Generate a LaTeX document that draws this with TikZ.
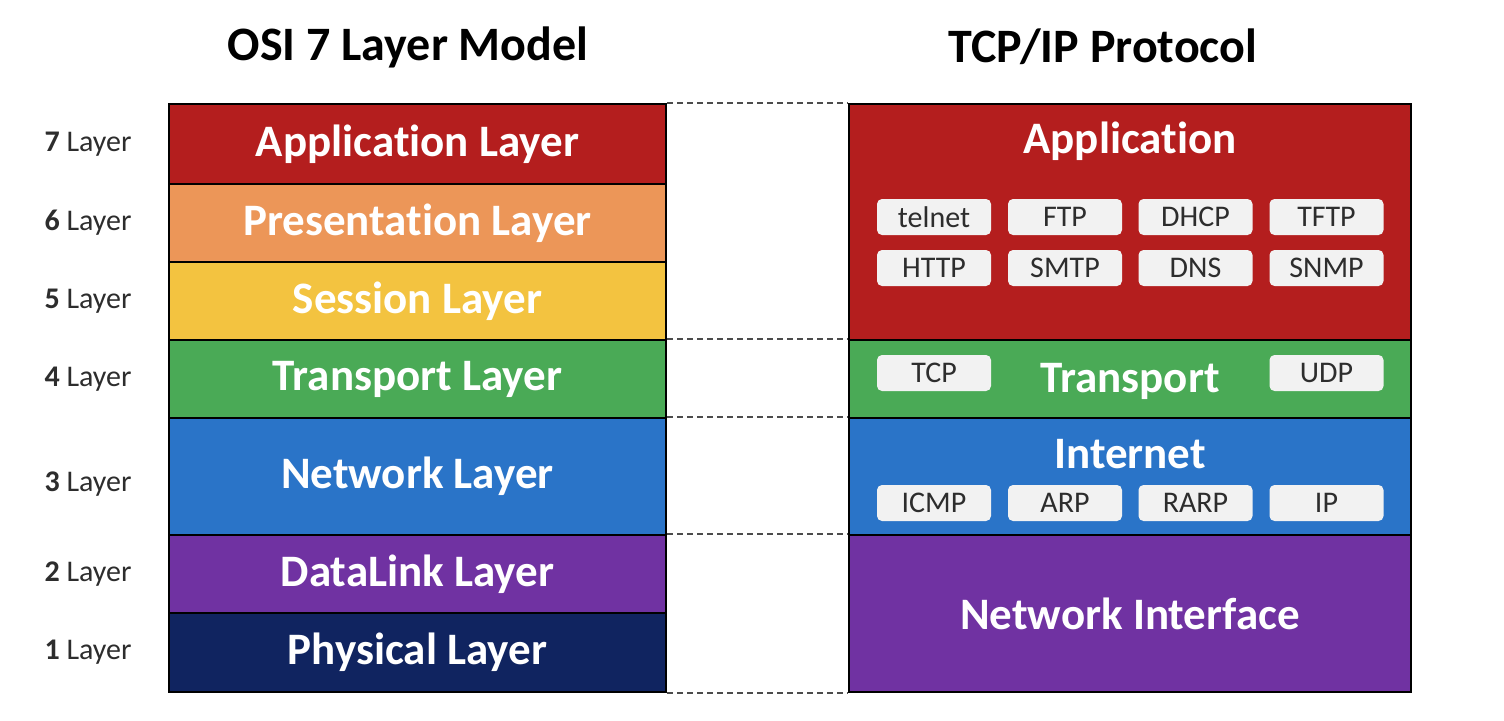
\documentclass[tikz,border=0pt]{standalone}
\usepackage{fontspec}
\setmainfont[Ligatures=NoCommon]{Carlito}
\usetikzlibrary{positioning}
\definecolor{OSIred}{RGB}{180,30,30}
\definecolor{OSIorange}{RGB}{236,150,88}
\definecolor{OSIyellow}{RGB}{243,195,64}
\definecolor{OSIgreen}{RGB}{74,170,86}
\definecolor{OSIblue}{RGB}{42,116,200}
\definecolor{OSIpurple}{RGB}{112,50,162}
\definecolor{OSInavy}{RGB}{16,36,96}
\definecolor{DG}{RGB}{45,45,45}
\definecolor{BoxGray}{RGB}{242,242,242}

\begin{document}
\begin{tikzpicture}[x=1pt, y=-1pt,
  band/.style={draw=black, line width=2.5pt, fill=#1, text=white, inner sep=0pt,
    font=\fontsize{45}{47}\selectfont\bfseries},
  osiband/.style={band=#1, minimum width=497pt},
  tcpband/.style={band=#1, minimum width=562pt},
  bandtitle/.style={text=white, font=\fontsize{45}{47}\selectfont\bfseries},
  proto/.style={fill=BoxGray, rounded corners=5pt, minimum width=114pt, minimum height=36pt,
    inner sep=0pt, text=DG, font=\fontsize{30}{32}\selectfont},
  layerlab/.style={text=DG, font=\fontsize{30}{32}\selectfont, inner sep=0pt},
  headline/.style={text=black, font=\fontsize{48}{50}\selectfont\bfseries},
  dashline/.style={draw=black!70, line width=2pt, dash pattern=on 6pt off 4pt}
]
\useasboundingbox (0,0) rectangle (1504,720);

% titles
\node[headline] (osititle) at (408,47) {OSI 7 Layer Model};
\node[headline] (tcptitle) at (1103,47) {TCP/IP Protocol};

% OSI stack
\node[osiband=OSIred,    minimum height=80pt]  (osi7) at (417.5,144)   {Application Layer};
\node[osiband=OSIorange, minimum height=78pt]  (osi6) at (417.5,223)   {Presentation Layer};
\node[osiband=OSIyellow, minimum height=78pt]  (osi5) at (417.5,301)   {Session Layer};
\node[osiband=OSIgreen,  minimum height=78pt]  (osi4) at (417.5,379)   {Transport Layer};
\node[osiband=OSIblue,   minimum height=117pt] (osi3) at (417.5,476.5) {Network Layer};
\node[osiband=OSIpurple, minimum height=78pt]  (osi2) at (417.5,574)   {DataLink Layer};
\node[osiband=OSInavy,   minimum height=79pt]  (osi1) at (417.5,652.5) {Physical Layer};

\node[layerlab, left=36pt of osi7] (lab7) {\textbf{7} Layer};
\node[layerlab, left=36pt of osi6] (lab6) {\textbf{6} Layer};
\node[layerlab, left=36pt of osi5] (lab5) {\textbf{5} Layer};
\node[layerlab, left=36pt of osi4] (lab4) {\textbf{4} Layer};
\node[layerlab, left=36pt of osi3, yshift=-8pt] (lab3) {\textbf{3} Layer};
\node[layerlab, left=36pt of osi2] (lab2) {\textbf{2} Layer};
\node[layerlab, left=36pt of osi1] (lab1) {\textbf{1} Layer};

% TCP/IP stack
\node[tcpband=OSIred,    minimum height=236pt] (tapp)   at (1130,222)   {};
\node[tcpband=OSIgreen,  minimum height=78pt]  (ttrans) at (1130,379)   {};
\node[tcpband=OSIblue,   minimum height=117pt] (tinet)  at (1130,476.5) {};
\node[tcpband=OSIpurple, minimum height=157pt] (tnif)   at (1130,613.5) {Network Interface};

\node[bandtitle] (tapptitle)   at (1130,141) {Application};
\node[bandtitle] (ttranstitle) at (1130,381) {Transport};
\node[bandtitle] (tinettitle)  at (1130,454) {Internet};

\node[proto] (telnet) at (934,217)    {telnet};
\node[proto] (ftp)    at (1065,217)   {FTP};
\node[proto] (dhcp)   at (1195.5,217) {DHCP};
\node[proto] (tftp)   at (1326.5,217) {TFTP};
\node[proto] (http)   at (934,268)    {HTTP};
\node[proto] (smtp)   at (1065,268)   {SMTP};
\node[proto] (dns)    at (1195.5,268) {DNS};
\node[proto] (snmp)   at (1326.5,268) {SNMP};

\node[proto] (tcp) at (934,373)    {TCP};
\node[proto] (udp) at (1326.5,373) {UDP};

\node[proto] (icmp) at (934,503)    {ICMP};
\node[proto] (arp)  at (1065,503)   {ARP};
\node[proto] (rarp) at (1195.5,503) {RARP};
\node[proto] (ip)   at (1326.5,503) {IP};

% dashed guides between the stacks
\draw[dashline] (osi7.north east) -- (tapp.north west);
\draw[dashline] (osi4.north east) -- (ttrans.north west);
\draw[dashline] (osi3.north east) -- (tinet.north west);
\draw[dashline] (osi2.north east) -- (tnif.north west);
\draw[dashline] (osi1.south east) -- (tnif.south west);
\end{tikzpicture}
\end{document}
